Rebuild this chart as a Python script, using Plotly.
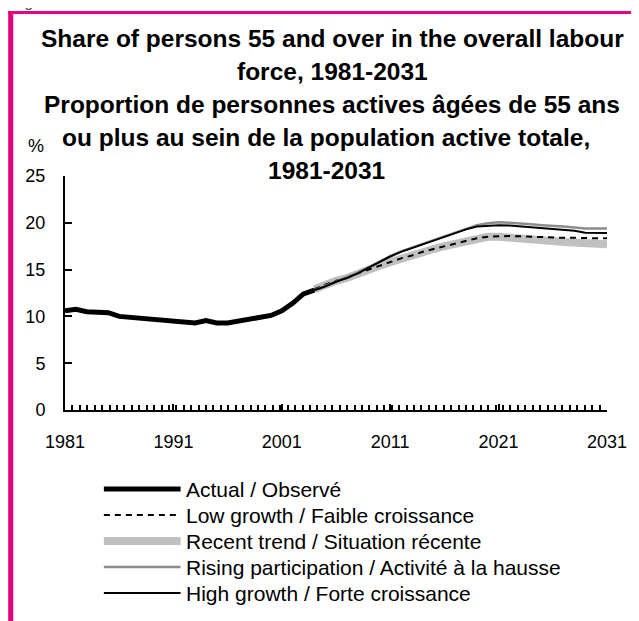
import plotly.graph_objects as go

# Datos (porcentaje de personas de 55 años y más en la población activa)
years_actual = list(range(1981, 2005))
actual = [10.6, 10.75, 10.5, 10.5, 10.4, 10.0, 9.9, 9.8, 9.6, 9.5, 9.4, 9.4,
          9.3, 9.55, 9.3, 9.3, 9.5, 9.7, 9.95, 10.1, 10.6, 11.4, 12.4, 12.8]

years_proj = list(range(2004, 2032))
high_growth = [12.8, 13.2, 13.7, 14.1, 14.6, 15.2, 15.8, 16.4, 16.9, 17.3, 17.7, 18.1,
               18.5, 18.9, 19.3, 19.6, 19.7, 19.75, 19.7, 19.6, 19.5, 19.4, 19.3,
               19.25, 19.15, 18.95, 18.9, 18.9]
rising = [12.8, 13.25, 13.75, 14.15, 14.65, 15.25, 15.85, 16.45, 16.95, 17.35, 17.75,
          18.2, 18.6, 19.0, 19.4, 19.75, 19.95, 20.05, 20.0, 19.95, 19.85, 19.75, 19.7,
          19.6, 19.5, 19.4, 19.4, 19.4]
recent = [12.9, 13.4, 13.8, 14.1, 14.6, 15.0, 15.4, 15.8, 16.2, 16.5, 16.9, 17.2,
          17.5, 17.8, 18.1, 18.35, 18.5, 18.5, 18.45, 18.35, 18.25, 18.15, 18.05,
          17.95, 17.85, 17.8, 17.75, 17.7]
low_growth = [12.9, 13.4, 13.8, 14.1, 14.6, 15.0, 15.4, 15.8, 16.2, 16.5, 16.9, 17.2,
              17.5, 17.8, 18.1, 18.35, 18.5, 18.55, 18.6, 18.55, 18.5, 18.5, 18.45,
              18.4, 18.4, 18.35, 18.35, 18.35]

x_ticks = [1981, 1991, 2001, 2011, 2021, 2031]
y_ticks = [0, 5, 10, 15, 20, 25]

title_lines = [
    "Share of persons 55 and over in the overall labour",
    "force, 1981-2031",
    "Proportion de personnes actives âgées de 55 ans",
    "ou plus au sein de la population active totale,",
    "1981-2031",
]
legend_labels = [
    "Actual / Observé",
    "Low growth / Faible croissance",
    "Recent trend / Situation récente",
    "Rising participation / Activité à la hausse",
    "High growth / Forte croissance",
]

FONT = "Liberation Sans, Arial, Helvetica, sans-serif"
OFF = 8  # margen del body de la página html
W, H = 639 - OFF, 621 - OFF
L, T = 65 - OFF, 176 - OFF
R = W - (609 - OFF)
B = H - (410 - OFF)
PW, PH = W - L - R, H - T - B


# posiciones en píxeles de la ventana -> coordenadas "paper"
def px(x):
    return (x - OFF - L) / PW


def py(y):
    return (H - B - (y - OFF)) / PH


styles = [
    dict(color="black", width=5),
    dict(color="black", width=2, dash="6px,5px"),
    dict(color="#c0c0c0", width=8),
    dict(color="#8c8c8c", width=2.5),
    dict(color="black", width=2),
]

fig = go.Figure()

# orden de dibujo: tendencia reciente abajo, observado arriba
fig.add_trace(go.Scatter(x=years_proj, y=recent, mode="lines", line=styles[2], cliponaxis=False))
fig.add_trace(go.Scatter(x=years_proj, y=low_growth, mode="lines", line=styles[1], cliponaxis=False))
fig.add_trace(go.Scatter(x=years_proj, y=rising, mode="lines", line=styles[3], cliponaxis=False))
fig.add_trace(go.Scatter(x=years_proj, y=high_growth, mode="lines", line=styles[4], cliponaxis=False))
fig.add_trace(go.Scatter(x=years_actual, y=actual, mode="lines", line=styles[0], cliponaxis=False))

shapes = []
annotations = []

# borde magenta
shapes.append(dict(type="line", xref="paper", yref="paper",
                   x0=px(10.5), x1=px(10.5), y0=py(11), y1=py(660),
                   line=dict(color="#e6007e", width=5)))
shapes.append(dict(type="line", xref="paper", yref="paper",
                   x0=px(8), x1=px(680), y0=py(12.5), y1=py(12.5),
                   line=dict(color="#e6007e", width=3)))

# título
title_y = [38, 71, 104, 137, 170]
title_x = [333, 333, 333, 327, 327]
for txt, xx, yy in zip(title_lines, title_x, title_y):
    annotations.append(dict(text="<b>" + txt + "</b>", x=px(xx), y=py(yy), xref="paper", yref="paper",
                            xanchor="center", yanchor="middle", showarrow=False,
                            font=dict(family=FONT, size=24.5, color="black")))

annotations.append(dict(text="%", x=px(36), y=py(146), xref="paper", yref="paper",
                        xanchor="center", yanchor="middle", showarrow=False,
                        font=dict(family=FONT, size=18, color="black")))
annotations.append(dict(text="Figure 3", x=px(9), y=py(12), xref="paper", yref="paper",
                        xanchor="left", yanchor="bottom", showarrow=False,
                        font=dict(family=FONT, size=16, color="#555555")))

# leyenda manual (líneas largas como en el original)
legend_y = [489, 515, 541, 567, 593]
for lab, st, yy in zip(legend_labels, styles, legend_y):
    shapes.append(dict(type="line", xref="paper", yref="paper",
                       x0=px(104), x1=px(181), y0=py(yy), y1=py(yy), line=st))
    annotations.append(dict(text=lab, x=px(184), y=py(yy), xref="paper", yref="paper",
                            xanchor="left", yanchor="middle", showarrow=False,
                            font=dict(family=FONT, size=21, color="black")))

fig.update_layout(
    width=W, height=H,
    margin=dict(l=L, r=R, t=T, b=B),
    paper_bgcolor="white", plot_bgcolor="white",
    showlegend=False,
    shapes=shapes, annotations=annotations,
    font=dict(family=FONT, size=18, color="black"),
)
fig.update_xaxes(range=[1981, 2031], tickvals=x_ticks, ticktext=[str(v) for v in x_ticks],
                 showgrid=False, zeroline=False, showline=True, linecolor="black", linewidth=2,
                 ticks="inside", ticklen=6, tickcolor="black", tickwidth=1.5,
                 ticklabelstandoff=14,
                 minor=dict(ticks="inside", ticklen=5, tickcolor="black", tickwidth=1.5,
                            tick0=1981, dtick=50 / 73, showgrid=False),
                 tickfont=dict(family=FONT, size=18))
fig.update_yaxes(range=[0, 25], tickvals=y_ticks, showgrid=False, zeroline=False,
                 showline=True, linecolor="black", linewidth=2,
                 ticks="inside", ticklen=7, tickcolor="black", tickwidth=2,
                 ticklabelstandoff=14,
                 tickfont=dict(family=FONT, size=18))

fig.write_html("out.html")
